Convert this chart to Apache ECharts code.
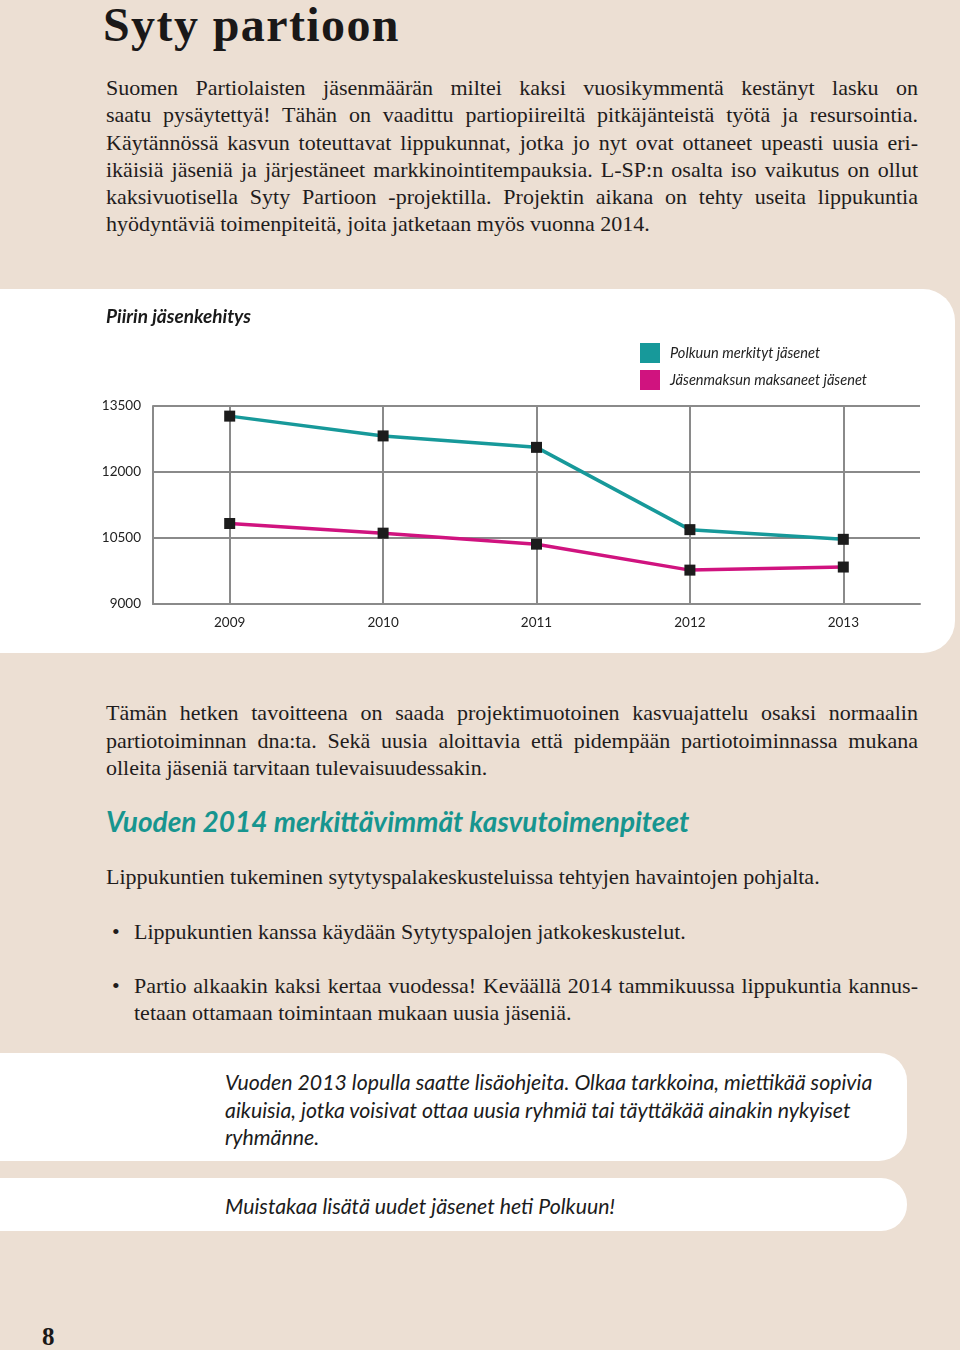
<!DOCTYPE html>
<html>
<head>
<meta charset="utf-8">
<script src="https://cdn.jsdelivr.net/npm/echarts@6/dist/echarts.min.js"></script>
<style>
  html, body { margin: 0; padding: 0; }
  body { width: 960px; height: 1350px; background: #ecdfd3; position: relative; overflow: hidden; color: #1f1c1c; }
  .serif { font-family: "Liberation Serif", serif; font-size: 22px; }
  .ln { position: absolute; left: 106px; width: 812px; height: 28px; line-height: 28px; }
  .j { text-align: justify; text-align-last: justify; }
  .panel { position: absolute; left: 0; background: #fff; }
  .box { position: absolute; left: 225px; font-family: "Lato", sans-serif; font-style: italic; font-size: 21.3px; height: 28px; line-height: 28px; color: #1c1c1c; }
</style>
</head>
<body>
<div style="position:absolute;left:103px;top:-4px;font-family:'Liberation Serif',serif;font-weight:bold;font-size:48px;line-height:58px;letter-spacing:1.4px;color:#1a1818;">Syty partioon</div>

<div class="serif ln j" style="top:74px;">Suomen Partiolaisten jäsenmäärän miltei kaksi vuosikymmentä kestänyt lasku on</div>
<div class="serif ln j" style="top:101px;">saatu pysäytettyä! Tähän on vaadittu partiopiireiltä pitkäjänteistä työtä ja resursointia.</div>
<div class="serif ln j" style="top:129px;">Käytännössä kasvun toteuttavat lippukunnat, jotka jo nyt ovat ottaneet upeasti uusia eri-</div>
<div class="serif ln j" style="top:156px;">ikäisiä jäseniä ja järjestäneet markkinointitempauksia. L-SP:n osalta iso vaikutus on ollut</div>
<div class="serif ln j" style="top:183px;">kaksivuotisella Syty Partioon -projektilla. Projektin aikana on tehty useita lippukuntia</div>
<div class="serif ln" style="top:210px;">hyödyntäviä toimenpiteitä, joita jatketaan myös vuonna 2014.</div>

<div id="chart" class="panel" style="top:289px;width:955px;height:364px;border-radius:0 32px 32px 0;"></div>

<div class="serif ln j" style="top:699px;">Tämän hetken tavoitteena on saada projektimuotoinen kasvuajattelu osaksi normaalin</div>
<div class="serif ln j" style="top:727px;">partiotoiminnan dna:ta. Sekä uusia aloittavia että pidempään partiotoiminnassa mukana</div>
<div class="serif ln" style="top:754px;">olleita jäseniä tarvitaan tulevaisuudessakin.</div>

<div style="position:absolute;left:106px;top:803px;height:36px;line-height:36px;font-family:'Lato',sans-serif;font-style:italic;font-weight:bold;font-size:28px;color:#17958f;">Vuoden 2014 merkittävimmät kasvutoimenpiteet</div>

<div class="serif ln" style="top:863px;">Lippukuntien tukeminen sytytyspalakeskusteluissa tehtyjen havaintojen pohjalta.</div>

<div class="serif" style="position:absolute;left:112px;top:918px;line-height:28px;">•</div>
<div class="serif ln" style="left:134px;width:784px;top:918px;">Lippukuntien kanssa käydään Sytytyspalojen jatkokeskustelut.</div>
<div class="serif" style="position:absolute;left:112px;top:972px;line-height:28px;">•</div>
<div class="serif ln j" style="left:134px;width:784px;top:972px;">Partio alkaakin kaksi kertaa vuodessa! Keväällä 2014 tammikuussa lippukuntia kannus-</div>
<div class="serif ln" style="left:134px;width:784px;top:999px;">tetaan ottamaan toimintaan mukaan uusia jäseniä.</div>

<div class="panel" style="top:1053px;width:907px;height:108px;border-radius:0 28px 28px 0;"></div>
<div class="box" style="top:1068px;">Vuoden 2013 lopulla saatte lisäohjeita. Olkaa tarkkoina, miettikää sopivia</div>
<div class="box" style="top:1096px;">aikuisia, jotka voisivat ottaa uusia ryhmiä tai täyttäkää ainakin nykyiset</div>
<div class="box" style="top:1123px;">ryhmänne.</div>

<div class="panel" style="top:1178px;width:907px;height:53px;border-radius:0 26px 26px 0;"></div>
<div class="box" style="top:1192px;">Muistakaa lisätä uudet jäsenet heti Polkuun!</div>

<div style="position:absolute;left:42px;top:1322px;font-family:'Liberation Serif',serif;font-weight:bold;font-size:25px;line-height:30px;color:#1a1818;">8</div>

<script>
const years = ['2009', '2010', '2011', '2012', '2013'];
const polkuunMerkityt = [13270, 12820, 12560, 10690, 10470];
const jasenmaksunMaksaneet = [10830, 10610, 10360, 9770, 9840];
const seriesNames = ['Polkuun merkityt jäsenet', 'Jäsenmaksun maksaneet jäsenet'];
const yMin = 9000, yMax = 13500, yStep = 1500;

const teal = '#17999a';
const pink = '#d0137f';
const grid = '#8a8a8a';

const chart = echarts.init(document.getElementById('chart'), null, { renderer: 'canvas' });
chart.setOption({
  animation: false,
  backgroundColor: 'transparent',
  title: {
    text: 'Piirin jäsenkehitys',
    left: 106, top: 18, padding: 0,
    textStyle: { fontFamily: 'Lato', fontStyle: 'italic', fontWeight: 'bold', fontSize: 19, color: '#1a1a1a' }
  },
  legend: {
    orient: 'vertical', left: 640, top: 54, padding: 0,
    itemWidth: 20, itemHeight: 20, itemGap: 7, icon: 'rect',
    selectedMode: false,
    textStyle: { fontFamily: 'Lato', fontStyle: 'italic', fontSize: 14.6, color: '#222', padding: [0, 0, 0, 5] },
    data: [
      { name: seriesNames[0], itemStyle: { color: teal } },
      { name: seriesNames[1], itemStyle: { color: pink } }
    ]
  },
  grid: { left: 153, right: 35, top: 117, bottom: 49 },
  xAxis: {
    type: 'category', data: years, boundaryGap: true,
    axisLine: { lineStyle: { color: grid, width: 2 } },
    axisTick: { show: false },
    axisLabel: { margin: 12, fontFamily: 'Lato', fontSize: 13.5, color: '#222' },
    splitLine: { show: false }
  },
  yAxis: {
    type: 'value', min: yMin, max: yMax, interval: yStep,
    axisLine: { show: true, lineStyle: { color: grid, width: 2 } },
    axisTick: { show: false },
    axisLabel: { margin: 12, fontFamily: 'Lato', fontSize: 13.5, color: '#222', formatter: v => String(v) },
    splitLine: { lineStyle: { color: grid, width: 2 } }
  },
  series: [
    {
      name: 'gridlines', type: 'line', data: years.map(() => null), z: 1, silent: true,
      markLine: {
        z: 1, silent: true, symbol: 'none', label: { show: false },
        lineStyle: { color: grid, width: 2, type: 'solid' },
        emphasis: { disabled: true },
        data: years.map(y => ({ xAxis: y }))
      }
    },
    {
      name: seriesNames[0], type: 'line', data: polkuunMerkityt, z: 3,
      symbol: 'rect', symbolSize: 11, showAllSymbol: true,
      lineStyle: { color: teal, width: 3.5 },
      itemStyle: { color: '#1c1c1c' },
      emphasis: { disabled: true }
    },
    {
      name: seriesNames[1], type: 'line', data: jasenmaksunMaksaneet, z: 3,
      symbol: 'rect', symbolSize: 11, showAllSymbol: true,
      lineStyle: { color: pink, width: 3.5 },
      itemStyle: { color: '#1c1c1c' },
      emphasis: { disabled: true }
    }
  ]
});
</script>
</body>
</html>
